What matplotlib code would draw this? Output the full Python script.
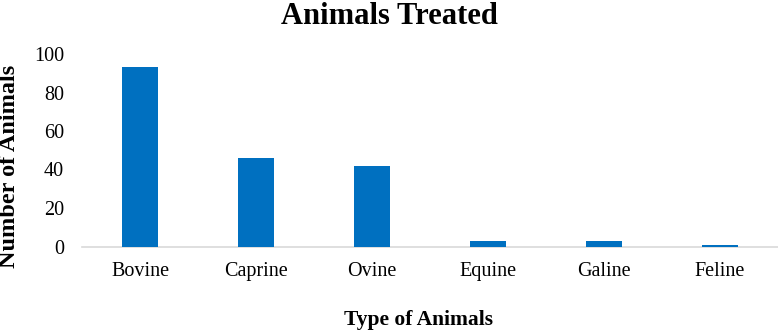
import matplotlib
matplotlib.use("Agg")
import matplotlib.pyplot as plt

categories = ["Bovine", "Caprine", "Ovine", "Equine", "Galine", "Feline"]
values = [93, 46, 42, 3, 3, 1]
yticks = [0, 20, 40, 60, 80, 100]

plt.rcParams['font.family'] = ['Liberation Serif', 'DejaVu Serif']

fig = plt.figure(figsize=(7.78, 3.34), dpi=100)
ax = fig.add_axes([82/778, 1 - 246.5/334, 696/778, (246.5 - 54)/334])

x = list(range(len(categories)))
ax.bar(x, values, width=0.316, color="#0070C0", zorder=3)
ax.set_xlim(-0.5, len(categories) - 0.5)
ax.set_ylim(0, 100)
ax.set_yticks(yticks)
ax.set_xticks(x)
ax.set_xticklabels(categories)
for s in ["top", "right", "left"]:
    ax.spines[s].set_visible(False)
ax.spines["bottom"].set_color("#d9d9d9")
ax.spines["bottom"].set_linewidth(1.2)
ax.tick_params(axis="both", length=0, labelsize=14.5, colors="black")
ax.tick_params(axis="y", pad=13)
ax.tick_params(axis="x", pad=11)

fig.text(389/778, 1 - 16/334, "Animals Treated", ha="center", va="center",
         fontsize=22, fontweight="bold")
fig.text(418/778, 1 - 320/334, "Type of Animals", ha="center", va="center",
         fontsize=15.5, fontweight="bold")
fig.text(9.5/778, 1 - 166/334, "Number of Animals", ha="center", va="center",
         fontsize=17.5, fontweight="bold", rotation=90)

fig.savefig("out.png", dpi=100)
